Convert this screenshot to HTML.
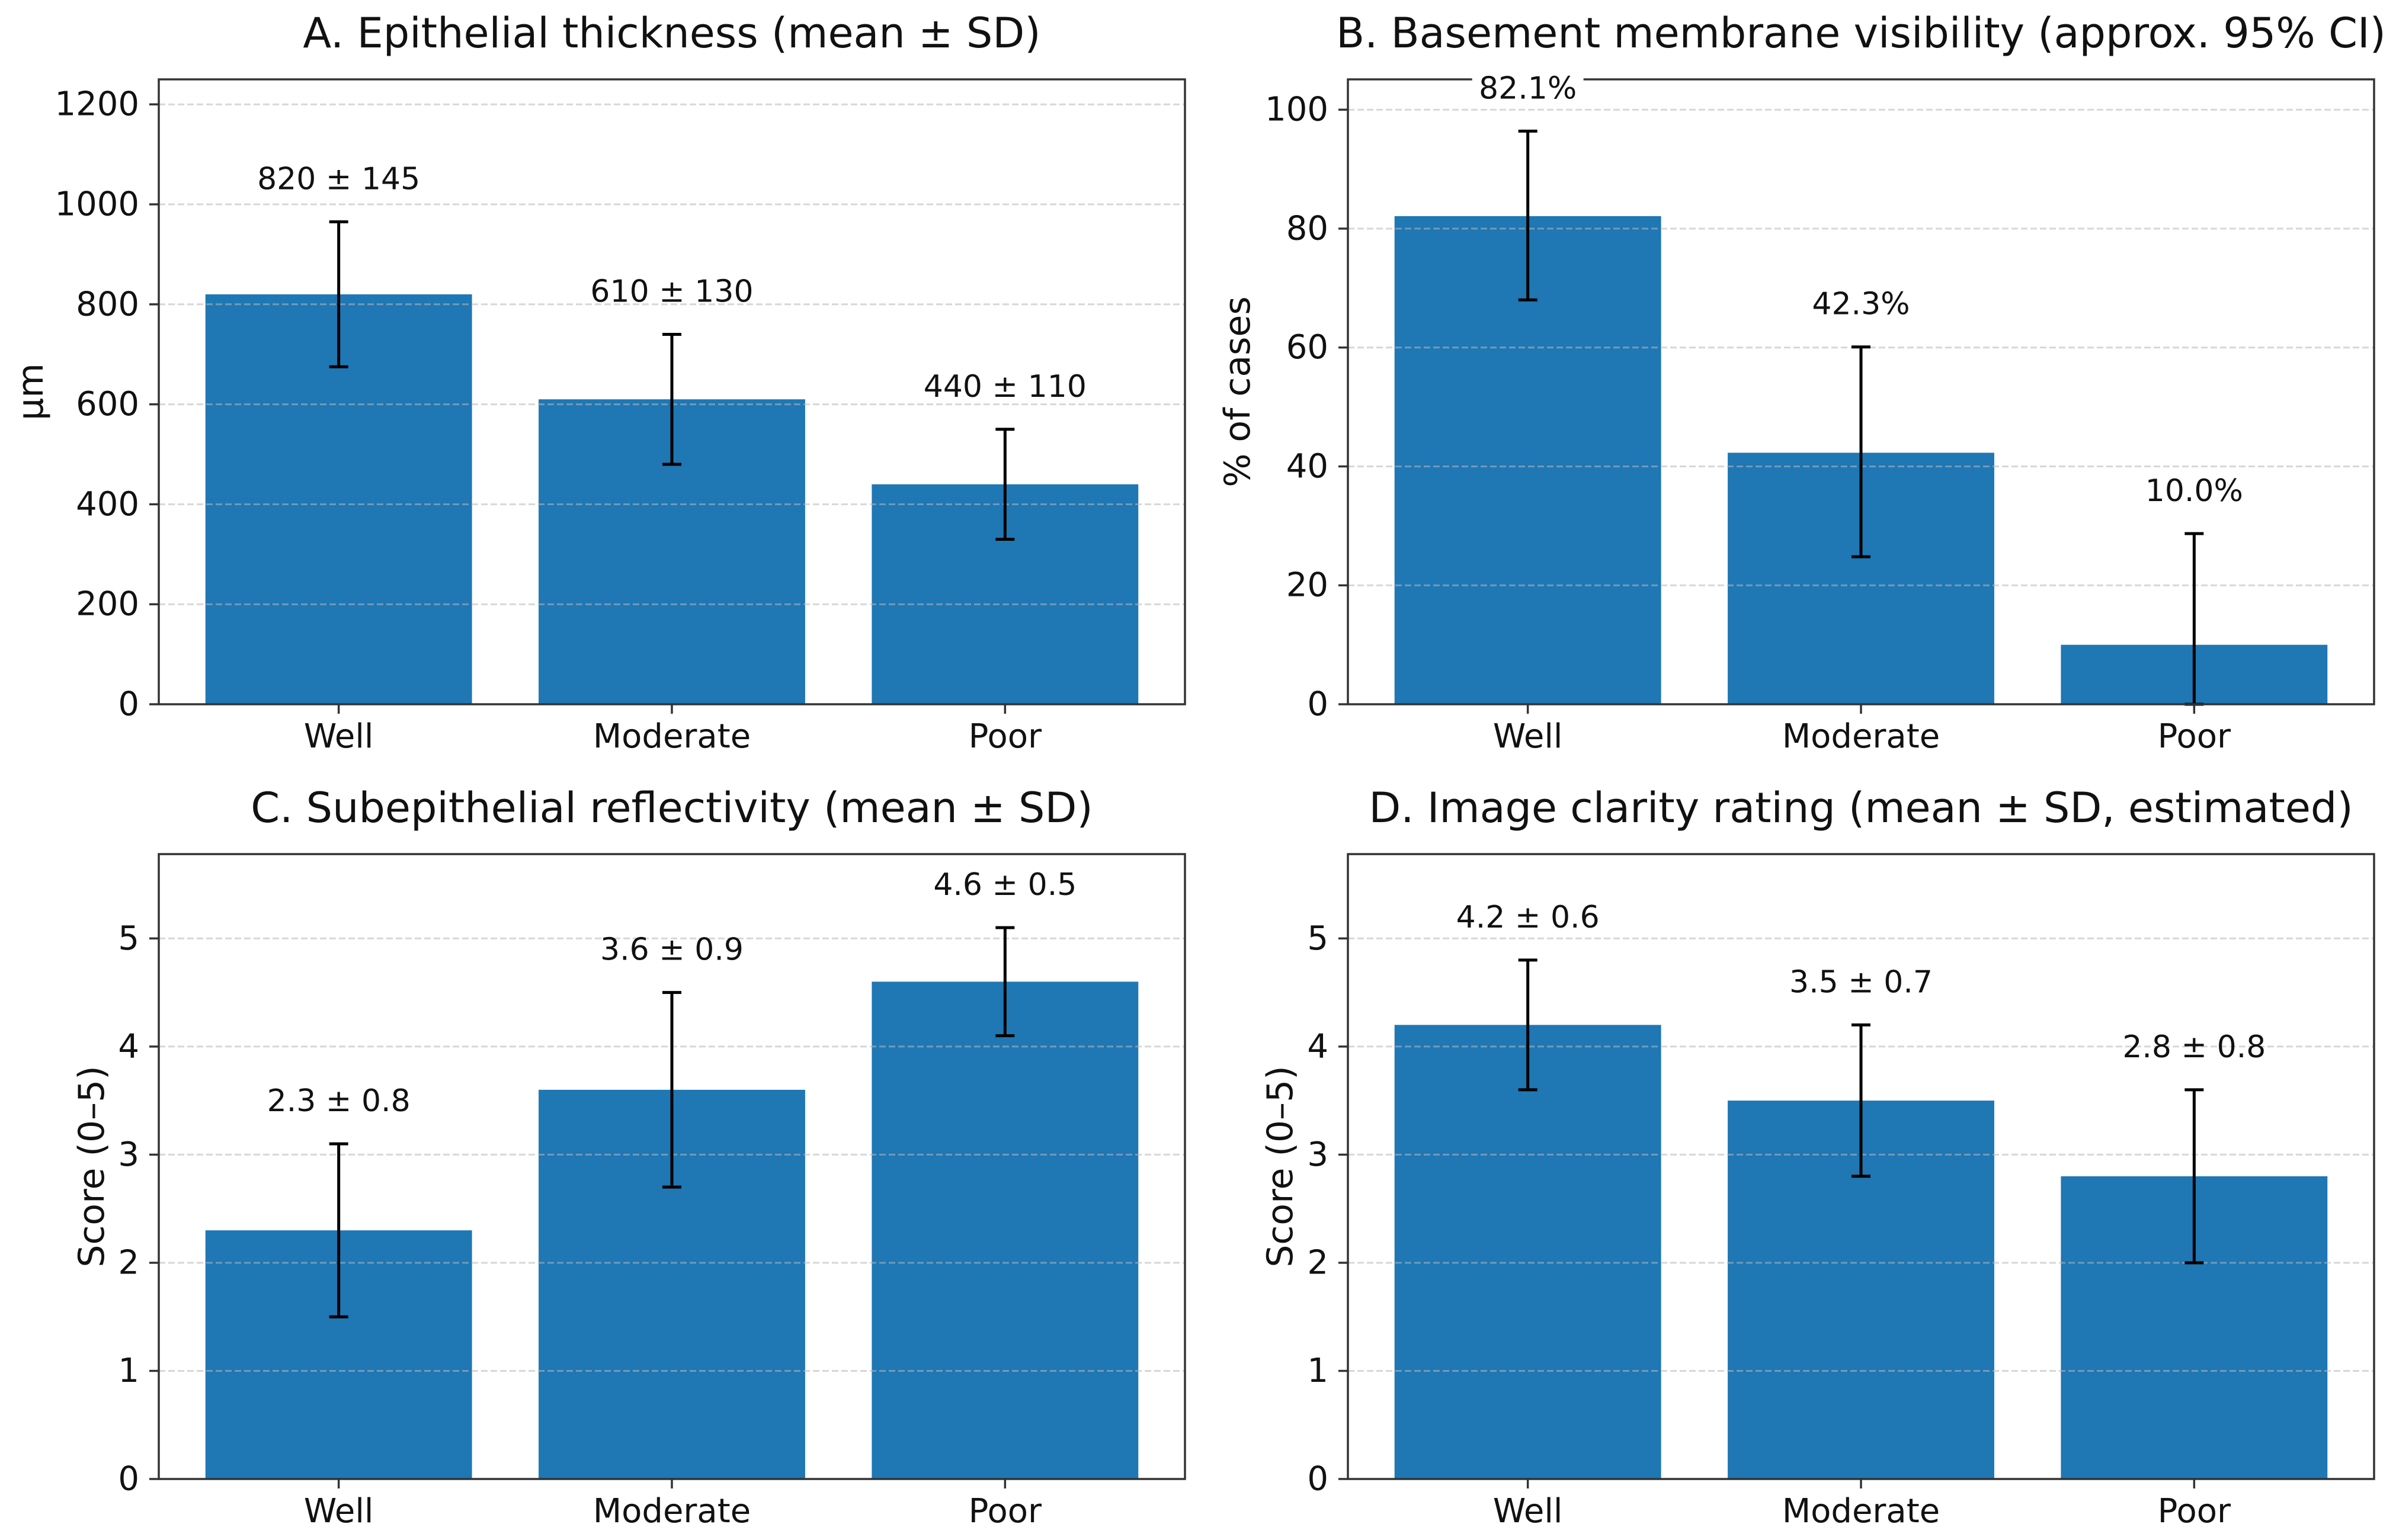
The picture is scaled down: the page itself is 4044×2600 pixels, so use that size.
<!DOCTYPE html>
<html><head><meta charset="utf-8">
<style>
html,body{margin:0;padding:0;background:#fff;}
svg{display:block;font-family:"DejaVu Sans","Liberation Sans",sans-serif;}
</style></head>
<body>
<svg id="fig" width="4044" height="2600" viewBox="0 0 4044 2600" xmlns="http://www.w3.org/2000/svg"></svg>
<script>
const categories = ["Well", "Moderate", "Poor"];
const thicknessMean = [820, 610, 440];
const thicknessSD = [145, 130, 110];
const thicknessTicks = [0, 200, 400, 600, 800, 1000, 1200];
const visibilityPct = [82.1, 42.3, 10.0];
const visibilityLow = [68.0, 24.8, 0.0];
const visibilityHigh = [96.4, 60.1, 28.7];
const visibilityTicks = [0, 20, 40, 60, 80, 100];
const reflectMean = [2.3, 3.6, 4.6];
const reflectSD = [0.8, 0.9, 0.5];
const clarityMean = [4.2, 3.5, 2.8];
const claritySD = [0.6, 0.7, 0.8];
const scoreTicks = [0, 1, 2, 3, 4, 5];

const NS = "http://www.w3.org/2000/svg";
const svg = document.getElementById("fig");
function mk(tag, attrs, parent) {
  const e = document.createElementNS(NS, tag);
  for (const k in attrs) e.setAttribute(k, attrs[k]);
  (parent || svg).appendChild(e);
  return e;
}

const panels = [
  {key:"a", x:268, y:134, title:"A. Epithelial thickness (mean \u00b1 SD)", ylabel:"\u00b5m", ylx:52, ymax:1250,
   ticks:thicknessTicks, vals:thicknessMean,
   lo:thicknessMean.map((m,i)=>m-thicknessSD[i]), hi:thicknessMean.map((m,i)=>m+thicknessSD[i]),
   lab:thicknessMean.map((m,i)=>m+" \u00b1 "+thicknessSD[i]), box:false},
  {key:"b", x:2275, y:134, title:"B. Basement membrane visibility (approx. 95% CI)", ylabel:"% of cases", ylx:2089, ymax:105.1,
   ticks:visibilityTicks, vals:visibilityPct, lo:visibilityLow, hi:visibilityHigh,
   lab:visibilityPct.map(v=>v.toFixed(1)+"%"), box:true},
  {key:"c", x:268, y:1442, title:"C. Subepithelial reflectivity (mean \u00b1 SD)", ylabel:"Score (0\u20135)", ylx:155, ymax:5.78,
   ticks:scoreTicks, vals:reflectMean,
   lo:reflectMean.map((m,i)=>m-reflectSD[i]), hi:reflectMean.map((m,i)=>m+reflectSD[i]),
   lab:reflectMean.map((m,i)=>m.toFixed(1)+" \u00b1 "+reflectSD[i].toFixed(1)), box:false},
  {key:"d", x:2275, y:1442, title:"D. Image clarity rating (mean \u00b1 SD, estimated)", ylabel:"Score (0\u20135)", ylx:2161, ymax:5.78,
   ticks:scoreTicks, vals:clarityMean,
   lo:clarityMean.map((m,i)=>m-claritySD[i]), hi:clarityMean.map((m,i)=>m+claritySD[i]),
   lab:clarityMean.map((m,i)=>m.toFixed(1)+" \u00b1 "+claritySD[i].toFixed(1)), box:false}
];

const W = 1732, H = 1055;
panels.forEach(p => {
  const g = mk("g", {});
  
  
  const xs = v => p.x + (v + 0.54) / 3.08 * W;
  const ys = v => p.y + H - v / p.ymax * H;
  const bw = 0.8 / 3.08 * W;

  const t = mk("text", {x:p.x + W/2, y:p.y - 54, "text-anchor":"middle", "font-size":70, fill:"#111"}, g);
  t.textContent = p.title;
  
  

  const yl = mk("text", {x:p.ylx, y:p.y + H/2, "text-anchor":"middle", "dominant-baseline":"central",
    "font-size":60, fill:"#111", transform:`rotate(-90 ${p.ylx} ${p.y + H/2})`}, g);
  yl.textContent = p.ylabel;
  
  

  p.vals.forEach((v, i) => {
    const r = mk("rect", {x:xs(i) - bw/2, y:ys(v), width:bw, height:ys(0) - ys(v), fill:"#1f77b4"}, g);
    
    
  });

  p.ticks.forEach(tv => {
    const l = mk("line", {x1:p.x, x2:p.x + W, y1:ys(tv), y2:ys(tv), stroke:"#b8b8b8", "stroke-width":3,
      "stroke-dasharray":"11 5", opacity:0.55}, g);
    
    
  });

  p.vals.forEach((v, i) => {
    const cx = xs(i);
    const eg = mk("g", {stroke:"#000", "stroke-width":5}, g);
    
    
    mk("line", {x1:cx, x2:cx, y1:ys(p.lo[i]), y2:ys(p.hi[i])}, eg);
    mk("line", {x1:cx - 16, x2:cx + 16, y1:ys(p.lo[i]), y2:ys(p.lo[i])}, eg);
    mk("line", {x1:cx - 16, x2:cx + 16, y1:ys(p.hi[i]), y2:ys(p.hi[i])}, eg);
  });

  const sp = mk("rect", {x:p.x, y:p.y, width:W, height:H, fill:"none", stroke:"#333", "stroke-width":3.5}, g);
  
  

  p.vals.forEach((v, i) => {
    const cx = xs(i), by = ys(p.hi[i]) - 55;
    if (p.box) {
      const bx = mk("rect", {x:cx - 94, y:by - 48, width:188, height:60, fill:"#fff"}, g);
      
      
    }
    const lt = mk("text", {x:cx, y:by, "text-anchor":"middle", "font-size":52, fill:"#111"}, g);
    lt.textContent = p.lab[i];
    
    
  });

  p.ticks.forEach(tv => {
    mk("line", {x1:p.x - 16, x2:p.x, y1:ys(tv), y2:ys(tv), stroke:"#333", "stroke-width":3.5}, g);
    const tl = mk("text", {x:p.x - 33, y:ys(tv), "text-anchor":"end", "dominant-baseline":"central", "font-size":56, fill:"#111"}, g);
    tl.textContent = tv;
    
    
  });

  categories.forEach((c, i) => {
    mk("line", {x1:xs(i), x2:xs(i), y1:p.y + H, y2:p.y + H + 16, stroke:"#333", "stroke-width":3.5}, g);
    const xl = mk("text", {x:xs(i), y:p.y + H + 73, "text-anchor":"middle", "font-size":56, fill:"#111"}, g);
    xl.textContent = c;
    
    
  });
});
</script>
</body></html>
